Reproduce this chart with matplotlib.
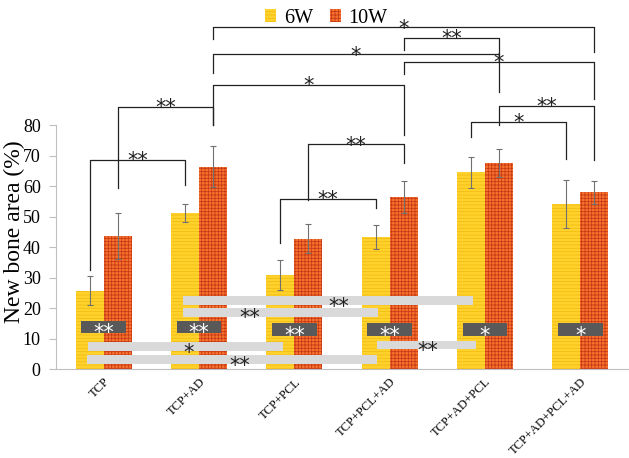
import matplotlib.pyplot as plt
import numpy as np

# bar data (new bone area, %)
groups = ['TCP', 'TCP+AD', 'TCP+PCL', 'TCP+PCL+AD', 'TCP+AD+PCL', 'TCP+AD+PCL+AD']
w6_mean = [25.7, 51.2, 30.8, 43.3, 64.5, 54.1]
w6_err = [4.8, 3.0, 5.0, 4.0, 5.1, 7.8]
w10_mean = [43.6, 66.3, 42.7, 56.4, 67.5, 57.9]
w10_err = [7.5, 6.7, 4.7, 5.4, 4.5, 3.8]

# brackets above bars: (group_a, series_a, group_b, series_b, line y, leg end a, leg end b, label)
brackets = [
    (0, 0, 1, 0, 68.5, 32.5, 60.3, '**'),
    (0, 1, 1, 1, 86.0, 59.3, 80.0, '**'),
    (1, 1, 5, 1, 112.0, 108.2, 104.0, '*'),
    (1, 1, 4, 1, 103.2, 97.0, 90.9, '*'),
    (1, 1, 3, 1, 93.1, 80.0, 76.7, '*'),
    (3, 1, 4, 1, 108.6, 104.6, 103.2, '**'),
    (3, 1, 5, 1, 100.8, 96.7, 88.4, '*'),
    (4, 1, 5, 1, 86.2, 80.0, 68.5, '**'),
    (4, 0, 5, 0, 81.1, 76.2, 68.8, '*'),
    (2, 1, 3, 1, 73.7, 55.4, 67.5, '**'),
    (2, 0, 3, 0, 55.8, 41.4, 52.8, '**'),
]

# light grey comparison strips: (x0, x1, y0, y1, text x, label)
strips = [
    (0.83, 3.87, 21.0, 23.9, 2.47, '**'),
    (0.83, 2.875, 17.1, 20.1, 1.53, '**'),
    (-0.168, 1.878, 6.0, 8.85, 0.89, '*'),
    (-0.178, 2.865, 1.6, 4.6, 1.43, '**'),
    (2.865, 3.91, 6.5, 9.3, 3.40, '**'),
]
# dark grey boxes per group: (y0, y1, label)
boxes = [(11.8, 15.7, '**'), (11.8, 15.7, '**'), (10.8, 15.1, '**'),
         (10.8, 15.1, '**'), (10.8, 15.1, '*'), (10.8, 15.1, '*')]

plt.rcParams['font.family'] = 'Liberation Serif'
plt.rcParams['hatch.linewidth'] = 0.6

fig = plt.figure(figsize=(6.29, 4.58), dpi=100)
ax = fig.add_axes([56 / 629, 89 / 458, 572 / 629, 369 / 458])

x = np.arange(len(groups))
bw = 0.294
off = bw / 2

ax.bar(x - off, w6_mean, bw, color='#FFD22E', edgecolor='#F2BC10', linewidth=0,
       hatch='-----', label='6W', zorder=2)
ax.bar(x + off, w10_mean, bw, color='#F7742E', edgecolor='#C93A16', linewidth=0,
       hatch='+++++', label='10W', zorder=2)
ax.errorbar(x - off, w6_mean, yerr=w6_err, fmt='none', ecolor='#707070',
            elinewidth=0.8, capsize=2.5, capthick=0.8, zorder=3)
ax.errorbar(x + off, w10_mean, yerr=w10_err, fmt='none', ecolor='#707070',
            elinewidth=0.8, capsize=2.5, capthick=0.8, zorder=3)

star_font = dict(family='DejaVu Sans', fontsize=15)

for ga, sa, gb, sb, ly, ea, eb, lab in brackets:
    xa = ga + (off if sa else -off)
    xb = gb + (off if sb else -off)
    ax.plot([xa, xa, xb, xb], [ea, ly, ly, eb], color='#222222', lw=0.9,
            zorder=4, clip_on=False)
    ax.text((xa + xb) / 2, ly - 2.4, lab, ha='center', va='baseline', color='#222222',
            zorder=5, **star_font)

for x0, x1, y0, y1, tx, lab in strips:
    ax.add_patch(plt.Rectangle((x0, y0), x1 - x0, y1 - y0, color='#D9D9D9',
                               lw=0, zorder=5))
    ax.text(tx, (y0 + y1) / 2 - 4.0, lab, ha='center', va='baseline', color='#222222',
            zorder=6, **star_font)

for i, (y0, y1, lab) in enumerate(boxes):
    ax.add_patch(plt.Rectangle((i - 0.236, y0), 0.472, y1 - y0, color='#595959',
                               lw=0, zorder=5))
    ax.text(i, (y0 + y1) / 2 - 4.0, lab, ha='center', va='baseline', color='white',
            zorder=6, **star_font)

ax.set_xlim(-0.5, 5.5)
ax.set_ylim(0, 121)
ax.set_yticks(range(0, 81, 10))
ax.tick_params(axis='y', labelsize=13, length=5, width=0.8, color='#BFBFBF', pad=6)
ax.set_xticks(x)
ax.set_xticklabels(groups, rotation=45, ha='right', rotation_mode='anchor', fontsize=9)
ax.tick_params(axis='x', length=0, pad=5)

for s in ['top', 'right']:
    ax.spines[s].set_visible(False)
ax.spines['left'].set_bounds(0, 80)
ax.spines['left'].set_color('#BFBFBF')
ax.spines['bottom'].set_color('#BFBFBF')
ax.set_ylabel('New bone area (%)', fontsize=17)
ax.yaxis.set_label_coords(-0.055, 0.372)

fig.legend(loc='upper center', bbox_to_anchor=(0.519, 1.02), ncol=2, frameon=False,
           fontsize=14.5, handlelength=0.55, handleheight=0.6, handletextpad=0.4,
           columnspacing=0.8)

fig.savefig('out.png', dpi=100)
